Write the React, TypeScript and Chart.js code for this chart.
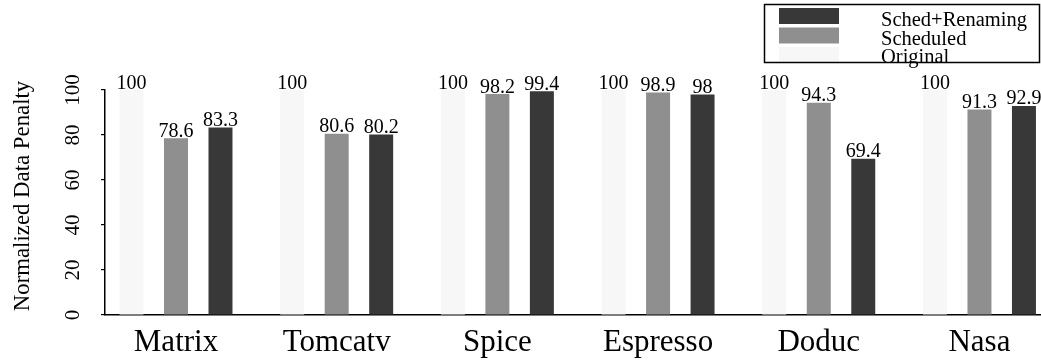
import React, { useEffect, useRef } from "react";
import { Chart, registerables } from "chart.js";

Chart.register(...registerables);

const categories = ["Matrix", "Tomcatv", "Spice", "Espresso", "Doduc", "Nasa"];
const original = [100, 100, 100, 100, 100, 100];
const scheduled = [78.6, 80.6, 98.2, 98.9, 94.3, 91.3];
const schedRenaming = [83.3, 80.2, 99.4, 98, 69.4, 92.9];
const seriesNames = ["Original", "Scheduled", "Sched+Renaming"];
const seriesColors = ["#f7f7f7", "#8f8f8f", "#383838"];
const seriesValues = [original, scheduled, schedRenaming];
const yTickValues = [0, 20, 40, 60, 80, 100];
const yTitle = "Normalized Data Penalty";

const FONT = '"Liberation Serif", "Times New Roman", Times, serif';

const W = 1041;
const H = 362;

const customDraw = {
  id: "customDraw",
  afterDatasetsDraw(chart: any) {
    const ctx = chart.ctx;
    ctx.save();
    ctx.fillStyle = "#000";
    ctx.font = `20px ${FONT}`;
    ctx.textAlign = "center";
    ctx.textBaseline = "alphabetic";
    chart.data.datasets.forEach((ds: any, di: number) => {
      const meta = chart.getDatasetMeta(di);
      meta.data.forEach((el: any, i: number) => {
        const v = ds.data[i].y;
        ctx.fillText(String(v), el.x, el.y - 1.5);
      });
    });
    ctx.restore();
  },
  afterDraw(chart: any) {
    const ctx = chart.ctx;
    const ys = chart.scales.y;
    // y tick labels (rotated)
    ctx.save();
    ctx.fillStyle = "#000";
    ctx.font = `21px ${FONT}`;
    ctx.textAlign = "center";
    ctx.textBaseline = "alphabetic";
    ys.ticks.forEach((t: any) => {
      const y = ys.getPixelForValue(t.value);
      ctx.save();
      ctx.translate(ys.right - 26, y);
      ctx.rotate(-Math.PI / 2);
      ctx.fillText(String(t.value), 0, 0);
      ctx.restore();
    });
    // y title
    ctx.font = `22.8px ${FONT}`;
    ctx.save();
    ctx.translate(29, 196);
    ctx.rotate(-Math.PI / 2);
    ctx.fillText(yTitle, 0, 0);
    ctx.restore();

    // legend
    const bx = 764.5, by = 4.5, bw = 275, bh = 58;
    ctx.strokeStyle = "#000";
    ctx.lineWidth = 1.5;
    const dsList = chart.data.datasets.slice().reverse();
    ctx.font = `20.5px ${FONT}`;
    ctx.textAlign = "left";
    dsList.forEach((ds: any, k: number) => {
      ctx.fillStyle = ds.backgroundColor;
      ctx.fillRect(779, 8 + k * 19.5, 60, 16);
      ctx.fillStyle = "#000";
      ctx.fillText(ds.label, 881, 26 + k * 18.5);
    });
    ctx.strokeRect(bx, by, bw, bh);
    ctx.restore();
  },
};

export default function App() {
  const canvasRef = useRef<HTMLCanvasElement | null>(null);

  useEffect(() => {
    document.body.style.margin = "0";
    const canvas = canvasRef.current;
    if (!canvas) return;
    const chart = new Chart(canvas, {
      type: "bar",
      data: {
        labels: categories,
        datasets: seriesNames.map((name, si) => ({
          label: name,
          data: categories.map((_, i) => ({ x: i, y: seriesValues[si][i] })),
          backgroundColor: seriesColors[si],
          borderWidth: 0,
          categoryPercentage: 0.8307,
          barPercentage: 0.539,
        })),
      },
      options: {
        responsive: false,
        animation: false,
        devicePixelRatio: 1,
        layout: { padding: { top: 90, left: 0, right: 0, bottom: 0 } },
        plugins: {
          legend: { display: false },
          tooltip: { enabled: false },
          title: { display: false },
        },
        scales: {
          x: {
            type: "linear",
            offset: false,
            min: -0.4418,
            max: 5.383,
            grid: { display: false, drawTicks: false },
            border: { display: true, color: "#000", width: 1.5 },
            ticks: {
              stepSize: 1,
              includeBounds: false,
              autoSkip: false,
              maxRotation: 0,
              minRotation: 0,
              padding: 9,
              color: "#000",
              font: { family: FONT, size: 31 },
              callback: (v: any) =>
                Number.isInteger(v) && categories[v] !== undefined ? categories[v] : "",
            },
            afterFit: (scale: any) => {
              scale.height = 47;
            },
          },
          y: {
            type: "linear",
            min: 0,
            max: 100,
            grid: {
              display: true,
              drawOnChartArea: false,
              drawTicks: true,
              tickLength: 4,
              color: "#000",
              lineWidth: 1.2,
            },
            border: { display: true, color: "#000", width: 1.5 },
            ticks: {
              display: false,
              stepSize: 20,
            },
            afterBuildTicks: (scale: any) => {
              scale.ticks = yTickValues.map((v) => ({ value: v }));
            },
            afterFit: (scale: any) => {
              scale.width = 105;
            },
          },
        },
      },
      plugins: [customDraw],
    } as any);
    return () => chart.destroy();
  }, []);

  return (
    <div style={{ width: W, height: H }}>
      <canvas ref={canvasRef} width={W} height={H} style={{ display: "block" }} />
    </div>
  );
}
